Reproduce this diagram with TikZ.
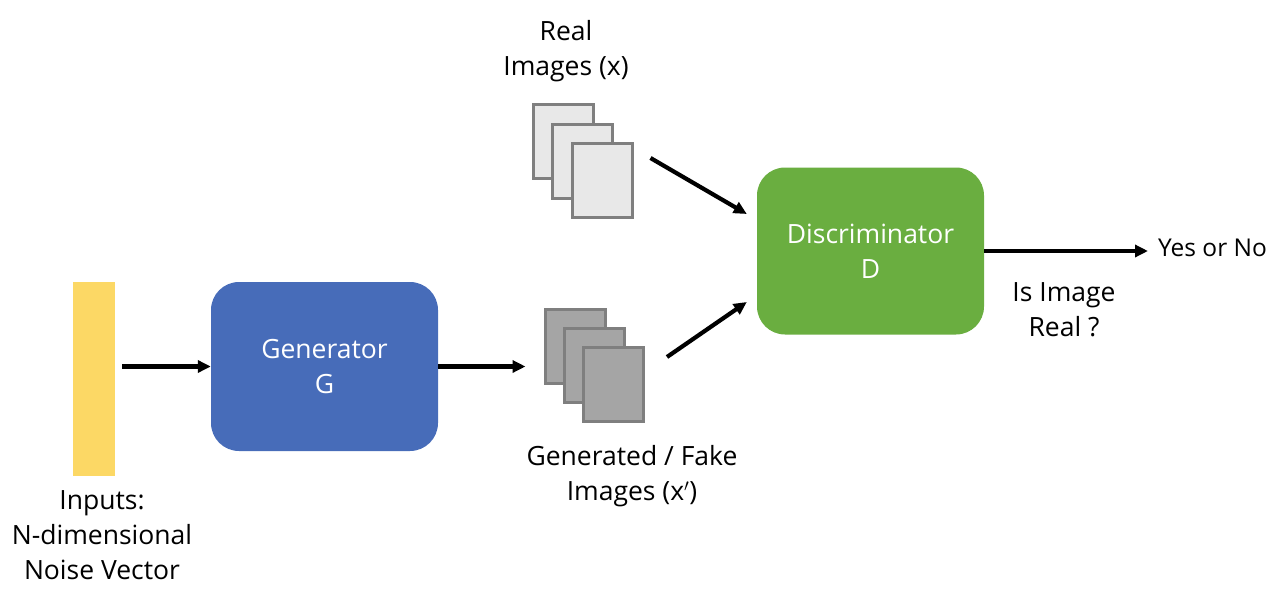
\documentclass[tikz,border=0pt]{standalone}
\usepackage{fontspec}
\setmainfont{Open Sans}
\usetikzlibrary{arrows.meta,calc}
\definecolor{genblue}{HTML}{476CB9}
\definecolor{discgreen}{HTML}{6AAE40}
\definecolor{baryellow}{HTML}{FCD865}
\definecolor{reallight}{HTML}{E8E8E8}
\definecolor{fakedark}{HTML}{A5A5A5}
\definecolor{imgborder}{HTML}{7F7F7F}
\begin{document}
\begin{tikzpicture}[x=1pt,y=-1pt,
  font=\fontsize{26.5}{35}\selectfont,
  box/.style={rounded corners=28pt, text=white, align=center, inner sep=0pt},
  img/.style={draw=imgborder, line width=3pt, minimum width=60pt, minimum height=74pt, inner sep=0pt},
  realimg/.style={img, fill=reallight},
  fakeimg/.style={img, fill=fakedark},
  lbl/.style={align=center, inner sep=0pt, text=black},
  arr/.style={line width=4.2pt, -{Triangle[length=13pt,width=12pt]}}
]
\useasboundingbox (0,0) rectangle (1270,600);

% noise vector
\node[fill=baryellow, minimum width=42pt, minimum height=194pt, inner sep=0pt] (bar) at (94,379) {};
\node[lbl] (inputs) at (102,535) {Inputs:\\N-dimensional\\Noise Vector};

% generator
\node[box, fill=genblue, minimum width=227pt, minimum height=169pt] (gen) at (324.5,366.5) {Generator\\G};

% real images
\node[realimg] (r1) at (563,141.5) {};
\node[realimg] (r2) at (582.5,161) {};
\node[realimg] (r3) at (602,180) {};
\node[lbl] (reallbl) at (566,51) {Real\\Images (x)};

% fake images
\node[fakeimg] (f1) at (575,346) {};
\node[fakeimg] (f2) at (594,365) {};
\node[fakeimg] (f3) at (613,384.5) {};
\node[lbl] (fakelbl) at (632,476.5) {Generated / Fake\\Images (x$'$)};

% discriminator
\node[box, fill=discgreen, minimum width=227pt, minimum height=167pt] (disc) at (870.5,251) {Discriminator\\D};

% output
\node[lbl, anchor=west, inner xsep=10pt, font=\fontsize{24.5}{32}\selectfont] (yes) at (1148,248) {Yes or No};
\node[lbl] (isreal) at (1064,309.5) {Is Image\\Real ?};

% arrow end points
\coordinate (rs) at ($(r3.east)+(17,-22)$);
\coordinate (re) at ($(disc.west)+(-10,-37)$);
\coordinate (fs) at ($(f3.east)+(22.5,-27.5)$);
\coordinate (fe) at ($(disc.west)+(-10,51)$);

% connectors
\draw[arr] ($(gen.west -| bar.east)+(7,0)$) -- (gen.west);
\draw[arr] (gen.east) -- ($(gen.east -| f1.west)+(-18,0)$);
\draw[arr] (rs) -- (re);
\draw[arr] (fs) -- (fe);
\draw[arr] (disc.east) -- (disc.east -| yes.west);
\end{tikzpicture}
\end{document}
